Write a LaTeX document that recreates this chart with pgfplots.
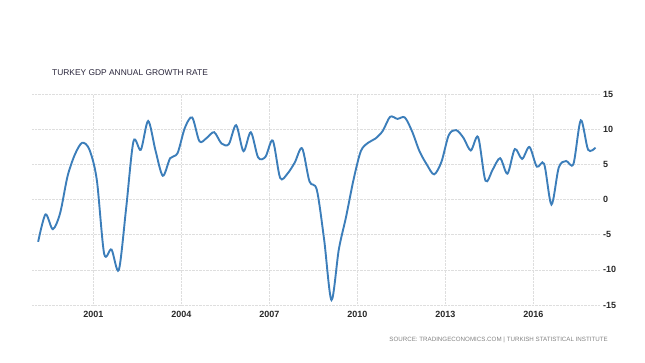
\documentclass[border=0pt]{standalone}
\usepackage{pgfplots}
\pgfplotsset{compat=1.18}
\usepackage{pgfplotstable}
\usepackage{fontspec}
\setmainfont{Liberation Sans}
\definecolor{lineblue}{RGB}{60,126,186}
\definecolor{gridgray}{RGB}{222,222,222}
\definecolor{titlecol}{RGB}{40,36,58}
\definecolor{tickcol}{RGB}{40,40,40}
\definecolor{srccol}{RGB}{130,130,130}
\pgfplotstableread{
x y
1999.12 -6.0
1999.37 -2.1
1999.62 -4.2
1999.87 -1.9
2000.12 3.3
2000.37 6.4
2000.62 8.1
2000.87 7.1
2001.12 2.8
2001.37 -7.7
2001.62 -7.1
2001.87 -10.0
2002.12 -1.2
2002.37 8.3
2002.62 7.1
2002.87 11.2
2003.12 7.0
2003.37 3.4
2003.62 5.9
2003.87 6.6
2004.12 10.2
2004.37 11.7
2004.62 8.3
2004.87 8.8
2005.12 9.6
2005.37 8.0
2005.62 7.9
2005.87 10.6
2006.12 6.9
2006.37 9.6
2006.62 6.0
2006.87 6.1
2007.12 8.4
2007.37 3.1
2007.62 3.7
2007.87 5.3
2008.12 7.3
2008.37 2.6
2008.62 1.4
2008.87 -5.7
2009.12 -14.3
2009.37 -7.1
2009.62 -2.4
2009.87 2.8
2010.12 6.9
2010.37 8.1
2010.62 8.7
2010.87 9.8
2011.12 11.8
2011.37 11.5
2011.62 11.7
2011.87 9.7
2012.12 6.9
2012.37 5.0
2012.62 3.6
2012.87 5.4
2013.12 9.2
2013.37 9.9
2013.62 8.8
2013.87 7.0
2014.12 8.9
2014.37 2.7
2014.62 4.3
2014.87 5.9
2015.12 3.7
2015.37 7.2
2015.62 5.8
2015.87 7.5
2016.12 4.7
2016.37 5.1
2016.62 -0.7
2016.87 4.6
2017.12 5.5
2017.37 5.1
2017.62 11.3
2017.87 7.1
2018.12 7.4
}\gdpdata
\begin{document}
\begin{tikzpicture}[x=1pt,y=1pt]
\path[use as bounding box] (0,0) rectangle (645,363);
\begin{axis}[
  at={(32pt,58pt)}, anchor=south west,
  scale only axis, width=568pt, height=210.7pt,
  xmin=1998.91, xmax=2018.275,
  ymin=-15, ymax=15,
  xtick={2001,2004,2007,2010,2013,2016},
  xticklabels={2001,2004,2007,2010,2013,2016},
  ytick={-15,-10,-5,0,5,10,15},
  yticklabels={-15,-10,-5,0,5,10,15},
  yticklabel pos=right,
  axis line style={draw=none},
  major tick length=0pt,
  grid=major,
  major grid style={densely dotted, gridgray, line width=0.7pt},
  xticklabel style={font=\fontsize{9}{10}\selectfont\bfseries, text=tickcol, inner sep=0pt, anchor=north, yshift=-6pt},
  yticklabel style={font=\fontsize{9}{10}\selectfont\bfseries, text=tickcol, inner sep=0pt, anchor=west, xshift=3pt},
  clip=false,
]
\addplot[lineblue, line width=1.9pt, smooth, tension=0.5] table[x=x,y=y] {\gdpdata};
\end{axis}
\node[anchor=west, inner sep=0pt, text=titlecol, font=\fontsize{8.4}{10}\selectfont] at (52,290) {TURKEY GDP ANNUAL GROWTH RATE};
\node[anchor=east, inner sep=0pt, text=srccol, font=\fontsize{6.2}{7}\selectfont] at (608,23) {SOURCE: TRADINGECONOMICS.COM \textbar{} TURKISH STATISTICAL INSTITUTE};
\end{tikzpicture}
\end{document}
